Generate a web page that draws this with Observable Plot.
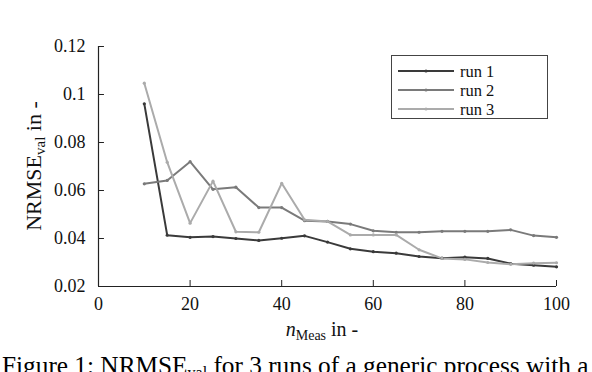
<!DOCTYPE html>
<html><head><meta charset="utf-8">
<script src="https://cdn.jsdelivr.net/npm/d3@7"></script>
<script src="https://cdn.jsdelivr.net/npm/@observablehq/plot@0.6"></script>
<style>
body{margin:0;background:#fff;}
#wrap{position:relative;width:592px;height:372px;overflow:hidden;font-family:"Liberation Serif","DejaVu Serif",serif;}
#chart svg text{font-family:"Liberation Serif","DejaVu Serif",serif !important;}
#legend{position:absolute;left:391px;top:55px;width:157px;height:64px;border:1px solid #444;box-sizing:border-box;background:#fff;}
#legend svg{display:block;}
#legend text{font-family:"Liberation Serif","DejaVu Serif",serif;}
#caption{position:absolute;left:2px;top:353px;white-space:nowrap;font-size:25.3px;line-height:25px;color:#000;}
#caption sub{font-size:16px;vertical-align:-4px;line-height:0;}
</style></head>
<body><div id="wrap"><div id="chart"></div><div id="legend"></div><div id="caption">Figure 1: NRMSE<sub>val</sub> for 3 runs of a generic process with a</div></div>
<script>
const nMeas = [10,15,20,25,30,35,40,45,50,55,60,65,70,75,80,85,90,95,100];
const run1 = [0.0961,0.0414,0.0405,0.0408,0.0400,0.0392,0.0401,0.0411,0.0385,0.0357,0.0345,0.0339,0.0325,0.0318,0.0322,0.0317,0.0295,0.0289,0.0282];
const run2 = [0.0628,0.0642,0.0720,0.0605,0.0614,0.0529,0.0529,0.0474,0.0471,0.0460,0.0432,0.0426,0.0426,0.0430,0.0430,0.0430,0.0436,0.0412,0.0405];
const run3 = [0.1047,0.0718,0.0464,0.0639,0.0428,0.0426,0.0630,0.0478,0.0471,0.0415,0.0415,0.0415,0.0353,0.0317,0.0313,0.0300,0.0293,0.0297,0.0299];
const runNames = ["run 1","run 2","run 3"];
const runColors = ["#3a3a3a","#7a7a7a","#ababab"];
const xTicks = [0,20,40,60,80,100];
const yTicks = [0.02,0.04,0.06,0.08,0.1,0.12];

const series = [run1, run2, run3];
const data = [];
series.forEach((s, i) => s.forEach((v, j) => data.push({run: runNames[i], n: nMeas[j], v})));

const font = "Liberation Serif";
const fmt = d => String(+d.toFixed(2));
const plot = Plot.plot({
  width: 592, height: 346,
  marginLeft: 98, marginRight: 36, marginTop: 46, marginBottom: 60,
  style: {fontSize: "18px", fontFamily: font, color: "#111", background: "#fff"},
  x: {domain: [0, 100], axis: null},
  y: {domain: [0.02, 0.12], axis: null},
  color: {domain: runNames, range: runColors},
  marks: [
    Plot.text(xTicks, {x: d => d, y: 0.02, text: d => String(d), dy: 18, fontFamily: font, fontSize: 18, fill: "#111"}),
    Plot.text(yTicks, {x: 0, y: d => d, text: fmt, dx: -13, textAnchor: "end", fontFamily: font, fontSize: 18, fill: "#111"}),
    Plot.ruleY(yTicks, {x1: 0, x2: 1.3, stroke: "#222", strokeWidth: 1}),
    Plot.ruleX(xTicks, {y1: 0.02, y2: 0.0225, stroke: "#222", strokeWidth: 1}),
    Plot.ruleX([0], {stroke: "#222", strokeWidth: 1.2}),
    Plot.ruleY([0.02], {stroke: "#222", strokeWidth: 1.2}),
    Plot.line(data, {x: "n", y: "v", z: "run", stroke: "run", strokeWidth: 2}),
    Plot.dot(data, {x: "n", y: "v", fill: "run", r: 1.6})
  ]
});
document.getElementById("chart").appendChild(plot);

const svg = d3.select(plot);
// x label
const xl = svg.append("text").attr("x", 322).attr("y", 336).attr("text-anchor", "middle")
  .style("font-size", "20px").attr("fill", "#111");
xl.append("tspan").style("font-style", "italic").text("n");
xl.append("tspan").attr("dy", 4).style("font-size", "14px").text("Meas");
xl.append("tspan").attr("dy", -4).text(" in -");
// y label
const yl = svg.append("text").attr("transform", "translate(41,166) rotate(-90)").attr("text-anchor", "middle")
  .style("font-size", "22px").attr("fill", "#111");
yl.append("tspan").text("NRMSE");
yl.append("tspan").attr("dy", 4).style("font-size", "15px").text("val");
yl.append("tspan").attr("dy", -4).text(" in -");

// legend
const lg = d3.select("#legend").append("svg").attr("width", 155).attr("height", 62);
runNames.forEach((name, i) => {
  const y = 15 + i * 19;
  lg.append("line").attr("x1", 6).attr("x2", 62).attr("y1", y).attr("y2", y)
    .attr("stroke", runColors[i]).attr("stroke-width", 2);
  lg.append("circle").attr("cx", 34).attr("cy", y).attr("r", 1.6).attr("fill", runColors[i]);
  lg.append("text").attr("x", 68).attr("y", y + 5.5).text(name)
    .style("font-size", "16.5px").attr("fill", "#111");
});
</script></body></html>
